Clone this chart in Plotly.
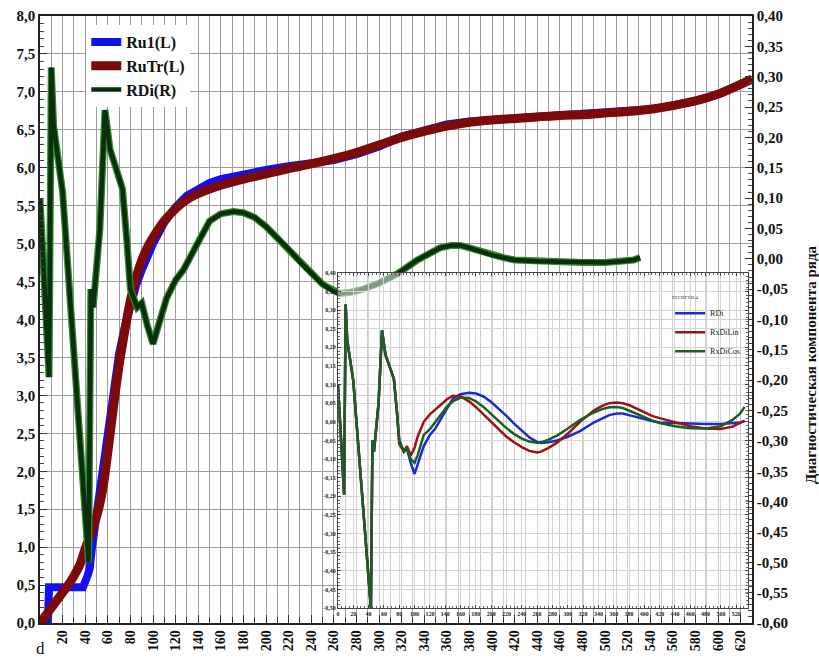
import plotly.graph_objects as go

# ---------------- main chart data ----------------
ru1_x = [0, 7, 8, 38, 42, 44, 46, 50, 55, 60, 65, 70, 75, 80, 85, 90, 95, 100, 110, 120, 130, 140, 150,
         160, 180, 200, 220, 240, 260, 280, 300, 320, 340, 360, 380, 400, 420, 440, 460, 480, 500, 520,
         540, 560, 580, 600, 620, 630]
ru1_y = [0.0, 0.0, 0.47, 0.47, 0.62, 0.72, 1.0, 1.45, 2.05, 2.6, 3.1, 3.55, 3.9, 4.2, 4.45, 4.65, 4.83,
         5.0, 5.28, 5.48, 5.63, 5.73, 5.8, 5.85, 5.92, 5.97, 6.02, 6.05, 6.1, 6.18, 6.28, 6.41, 6.5, 6.57,
         6.61, 6.63, 6.65, 6.67, 6.69, 6.7, 6.72, 6.74, 6.77, 6.82, 6.88, 6.97, 7.1, 7.17]

rutr_x = [0, 5, 10, 15, 20, 25, 30, 35, 40, 45, 50, 55, 60, 65, 70, 75, 80, 85, 90, 95, 100, 110, 120,
          130, 140, 150, 160, 180, 200, 220, 240, 260, 280, 300, 320, 340, 360, 380, 400, 420, 440, 460,
          480, 500, 520, 540, 560, 580, 600, 620, 630]
rutr_y = [0.0, 0.1, 0.2, 0.3, 0.4, 0.5, 0.62, 0.76, 0.98, 1.18, 1.4, 1.72, 2.25, 2.85, 3.4, 3.85, 4.25,
          4.55, 4.78, 4.95, 5.08, 5.3, 5.46, 5.58, 5.66, 5.72, 5.77, 5.85, 5.92, 5.99, 6.05, 6.12, 6.2, 6.3,
          6.4, 6.48, 6.55, 6.6, 6.63, 6.65, 6.67, 6.69, 6.7, 6.72, 6.74, 6.77, 6.82, 6.88, 6.97, 7.1, 7.17]

rdi_x = [0, 8, 10, 12, 20, 33, 38, 43, 45, 47, 53, 57.5, 62, 67, 73, 77, 80, 86, 90, 95, 100, 104, 112,
         120, 127, 135, 142, 150, 160, 171, 180, 190, 200, 210, 220, 230, 240, 250, 260, 265, 275, 286,
         300, 316, 334, 345, 354, 364, 372, 380, 390, 400, 410, 420, 440, 460, 480, 500, 515, 525, 531]
rdi_y = [0.10, -0.195, 0.315, 0.22, 0.11, -0.23, -0.35, -0.50, -0.05, -0.08, 0.05, 0.245, 0.18, 0.15,
         0.115, 0.026, -0.05, -0.08, -0.073, -0.11, -0.14, -0.115, -0.065, -0.035, -0.018, 0.01, 0.035,
         0.062, 0.074, 0.078, 0.076, 0.068, 0.053, 0.035, 0.016, -0.005, -0.023, -0.042, -0.054, -0.057,
         -0.055, -0.05, -0.04, -0.025, -0.002, 0.01, 0.018, 0.022, 0.022, 0.018, 0.012, 0.006, 0.002,
         -0.002, -0.004, -0.005, -0.006, -0.006, -0.004, -0.002, 0.002]

# ---------------- inset data (same x grid as RDi) ----------------
lin_y = [0.10, -0.195, 0.315, 0.22, 0.11, -0.23, -0.35, -0.50, -0.05, -0.08, 0.05, 0.245, 0.18, 0.15,
         0.115, 0.026, -0.06, -0.08, -0.065, -0.09, -0.07, -0.04, 0.0, 0.02, 0.033, 0.048, 0.06, 0.07,
         0.068, 0.055, 0.04, 0.02, 0.0, -0.02, -0.04, -0.055, -0.068, -0.078, -0.082, -0.08, -0.07,
         -0.056, -0.032, 0.0, 0.03, 0.043, 0.05, 0.052, 0.05, 0.045, 0.035, 0.025, 0.016, 0.01, -0.002,
         -0.012, -0.018, -0.019, -0.013, -0.004, 0.003]
cos_y = [0.10, -0.195, 0.315, 0.22, 0.11, -0.23, -0.35, -0.50, -0.05, -0.08, 0.05, 0.245, 0.18, 0.15,
         0.115, 0.026, -0.05, -0.08, -0.07, -0.1, -0.11, -0.09, -0.035, -0.02, 0.0, 0.02, 0.04, 0.055,
         0.065, 0.064, 0.055, 0.04, 0.022, 0.002, -0.017, -0.033, -0.045, -0.053, -0.056, -0.055, -0.048,
         -0.037, -0.018, 0.005, 0.025, 0.034, 0.039, 0.04, 0.037, 0.03, 0.02, 0.012, 0.004, -0.003,
         -0.012, -0.017, -0.018, -0.012, 0.005, 0.022, 0.04]

# ---------------- tick labels ----------------
x_ticks = list(range(20, 621, 20))
x_ticktext = [str(v) for v in x_ticks]
yl_ticks = [i * 0.5 for i in range(17)]
yl_ticktext = [f"{v:.1f}".replace(".", ",") for v in yl_ticks]
yr_ticks = [round(-0.6 + i * 0.05, 2) for i in range(21)]
yr_ticktext = [f"{v:.2f}".replace(".", ",") for v in yr_ticks]
ix_ticks = list(range(0, 521, 20))
iy_ticks = [round(-0.5 + i * 0.05, 2) for i in range(19)]
iy_ticktext = [f"{v:.2f}".replace(".", ",") for v in iy_ticks]

SERIF = "Liberation Serif"
GRID = "#9c9c9c"

fig = go.Figure()

# main traces
fig.add_trace(go.Scatter(x=ru1_x, y=ru1_y, mode="lines", name="Ru1(L)",
                         line=dict(color="#1010f0", width=8), xaxis="x", yaxis="y", legend="legend"))
fig.add_trace(go.Scatter(x=rutr_x, y=rutr_y, mode="lines", name="RuTr(L)",
                         line=dict(color="#7d0a0a", width=9, shape="spline"), xaxis="x", yaxis="y",
                         legend="legend"))
# green halo under the dark RDi core line
fig.add_trace(go.Scatter(x=rdi_x, y=rdi_y, mode="lines", name="RDi(R)", showlegend=False,
                         line=dict(color="#2f8a2f", width=7), xaxis="x", yaxis="y2", hoverinfo="skip"))
fig.add_trace(go.Scatter(x=rdi_x, y=rdi_y, mode="lines", name="RDi(R)",
                         line=dict(color="#0b2e0b", width=4.5), xaxis="x", yaxis="y2", legend="legend"))

# inset traces
fig.add_trace(go.Scatter(x=rdi_x, y=rdi_y, mode="lines", name="RDi",
                         line=dict(color="#1c2bd0", width=2.5), xaxis="x3", yaxis="y3", legend="legend2"))
fig.add_trace(go.Scatter(x=rdi_x, y=lin_y, mode="lines", name="RxDiLin",
                         line=dict(color="#a01212", width=2.5), xaxis="x3", yaxis="y3", legend="legend2"))
fig.add_trace(go.Scatter(x=rdi_x, y=cos_y, mode="lines", name="RxDiCos",
                         line=dict(color="#1b5e25", width=2.5), xaxis="x3", yaxis="y3", legend="legend2"))

tick_font = dict(family=SERIF, size=15, color="#111", weight="bold")
small_font = dict(family=SERIF, size=6, color="#222", weight="bold")

fig.update_layout(
    width=819, height=664, autosize=False,
    margin=dict(l=40, r=67, t=16, b=41),
    paper_bgcolor="white",
    plot_bgcolor="rgba(255,255,255,0.5)",
    showlegend=True,
    xaxis=dict(
        domain=[0, 1], range=[0, 630], anchor="y",
        tickmode="array", tickvals=x_ticks, ticktext=x_ticktext, tickangle=-90,
        tickfont=dict(family=SERIF, size=14, color="#111", weight="bold"),
        ticks="inside", ticklen=8, tickcolor="#333",
        showgrid=True, gridcolor=GRID, gridwidth=1,
        minor=dict(tickmode="linear", tick0=0, dtick=10, showgrid=True, gridcolor=GRID,
                   ticks="inside", ticklen=6, tickcolor="#333"),
        showline=True, linecolor="#222", linewidth=1.5, mirror=True,
        zeroline=False, automargin=False,
    ),
    xaxis4=dict(
        overlaying="x", anchor="y", range=[0, 630], side="bottom",
        tickmode="linear", tick0=0, dtick=2, ticks="inside", ticklen=5, tickcolor="#555",
        showticklabels=False, showgrid=False, zeroline=False, showline=False,
    ),
    yaxis=dict(
        domain=[0, 1], range=[0, 8], anchor="x",
        tickmode="array", tickvals=yl_ticks, ticktext=yl_ticktext, tickfont=tick_font,
        ticks="inside", ticklen=7, tickcolor="#333",
        minor=dict(tickmode="linear", tick0=0, dtick=0.1, ticks="inside", ticklen=4, tickcolor="#444",
                   showgrid=False),
        showgrid=True, gridcolor=GRID, gridwidth=1,
        showline=True, linecolor="#222", linewidth=1.5,
        zeroline=False, automargin=False,
    ),
    yaxis2=dict(
        overlaying="y", side="right", anchor="x", range=[-0.6, 0.4],
        tickmode="array", tickvals=yr_ticks, ticktext=yr_ticktext, tickfont=tick_font,
        ticks="inside", ticklen=7, tickcolor="#333",
        minor=dict(tickmode="linear", tick0=0, dtick=0.01, ticks="inside", ticklen=4, tickcolor="#444",
                   showgrid=False),
        showgrid=False, showline=True, linecolor="#222", linewidth=1.5,
        zeroline=False, automargin=False,
    ),
    xaxis3=dict(
        domain=[0.4185, 0.994], range=[0, 535], anchor="y3",
        tickmode="array", tickvals=ix_ticks, tickfont=small_font,
        ticks="inside", ticklen=3, tickcolor="#444",
        minor=dict(tickmode="linear", tick0=0, dtick=5, ticks="inside", ticklen=2, tickcolor="#666"),
        showgrid=True, gridcolor="#d6d6d6",
        showline=True, linecolor="#444", linewidth=1, mirror="ticks",
        zeroline=False, automargin=False,
    ),
    yaxis3=dict(
        domain=[0.0245, 0.577], range=[-0.5, 0.4], anchor="x3",
        tickmode="array", tickvals=iy_ticks, ticktext=iy_ticktext, tickfont=small_font,
        ticks="inside", ticklen=3, tickcolor="#444",
        minor=dict(tickmode="linear", tick0=0, dtick=0.01, ticks="inside", ticklen=2, tickcolor="#666"),
        showgrid=True, gridcolor="#d6d6d6",
        showline=True, linecolor="#444", linewidth=1, mirror="ticks",
        zeroline=False, automargin=False,
    ),
    legend=dict(
        x=0.065, y=0.985, xanchor="left", yanchor="top",
        bgcolor="white", borderwidth=0,
        font=dict(family=SERIF, size=16, color="#111", weight="bold"),
        itemwidth=30, tracegroupgap=0,
    ),
    legend2=dict(
        x=0.885, y=0.545, xanchor="left", yanchor="top",
        bgcolor="rgba(255,255,255,0)", borderwidth=0,
        title=dict(text="ΣΣΓΒΣΥΒ:4", font=dict(family=SERIF, size=5, color="#333")),
        font=dict(family=SERIF, size=8, color="#222"),
        itemwidth=30, tracegroupgap=0,
    ),
    annotations=[
        dict(text="d", x=0, xref="x", y=-0.042, yref="paper", showarrow=False,
             xanchor="center", yanchor="middle",
             font=dict(family=SERIF, size=17, color="#111")),
        dict(text="Диагностическая компонента ряда", textangle=-90,
             x=1.083, xref="paper", y=0.425, yref="paper", showarrow=False,
             xanchor="center", yanchor="middle",
             font=dict(family=SERIF, size=15, color="#111", weight="bold")),
    ],
)

fig.write_html("out.html")
